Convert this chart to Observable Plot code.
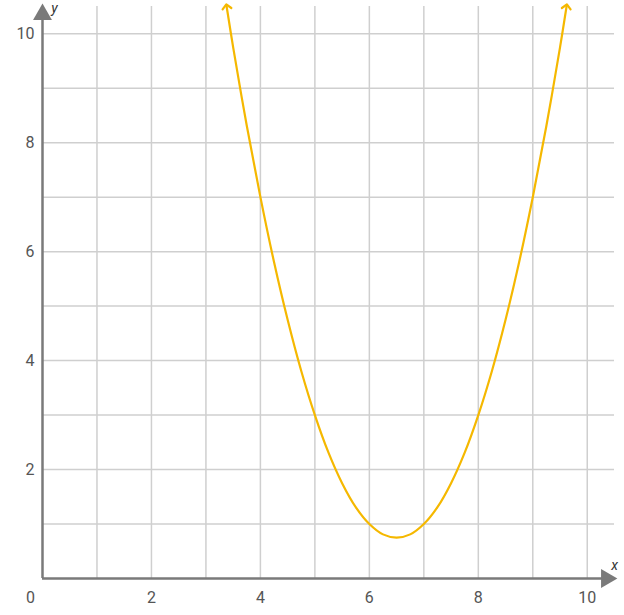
<!DOCTYPE html>
<html>
<head>
<meta charset="utf-8">
<script src="https://cdn.jsdelivr.net/npm/d3@7"></script>
<script src="https://cdn.jsdelivr.net/npm/@observablehq/plot@0.6"></script>
<style>
  html, body { margin: 0; padding: 0; background: #fff; }
  svg { display: block; }
</style>
</head>
<body>
<div id="chart"></div>
<script>
// Points
const curveX = [3.38, 3.5, 3.75, 4, 4.25, 4.5, 4.75, 5, 5.25, 5.5, 5.75, 6, 6.25, 6.5, 6.75, 7, 7.25, 7.5, 7.75, 8, 8.25, 8.5, 8.75, 9, 9.25, 9.5, 9.62];
const curveY = [10.5, 9.75, 8.31, 7, 5.81, 4.75, 3.81, 3, 2.31, 1.75, 1.31, 1, 0.81, 0.75, 0.81, 1, 1.31, 1.75, 2.31, 3, 3.81, 4.75, 5.81, 7, 8.31, 9.75, 10.5];
const gridValues = [1, 2, 3, 4, 5, 6, 7, 8, 9, 10];
const xTickLabels = [2, 4, 6, 8, 10];
const yTickLabels = [2, 4, 6, 8, 10];
const axisMax = 10.5;

const curve = curveX.map((x, i) => ({x, y: curveY[i]}));
const gray = "#7a7a7a";

const chart = Plot.plot({
  width: 624,
  height: 615,
  marginLeft: 42,
  marginRight: 10,
  marginTop: 6,
  marginBottom: 37,
  style: {fontFamily: "Roboto, sans-serif", background: "#fff"},
  x: {domain: [0, axisMax], axis: null},
  y: {domain: [0, axisMax], axis: null},
  marks: [
    Plot.ruleX(gridValues, {stroke: "#cfcfcf", strokeWidth: 1.5}),
    Plot.ruleY(gridValues, {stroke: "#cfcfcf", strokeWidth: 1.5}),
    Plot.ruleX([0], {stroke: gray, strokeWidth: 2.5, y1: 0, y2: axisMax - 0.2}),
    Plot.ruleY([0], {stroke: gray, strokeWidth: 2.5, x1: 0, x2: axisMax - 0.2}),
    Plot.dot([{x: 0, y: axisMax}], {x: "x", y: "y", symbol: "triangle", r: 7, fill: gray, stroke: null, dy: 8}),
    Plot.dot([{x: axisMax, y: 0}], {x: "x", y: "y", symbol: "triangle", r: 7, fill: gray, stroke: null, rotate: 90, dx: -8}),
    Plot.axisX(xTickLabels, {tickSize: 0, tickPadding: 13, fontSize: 16, color: "#555", anchor: "bottom", label: null, tickFormat: "d"}),
    Plot.axisY(yTickLabels, {tickSize: 0, tickPadding: 8, fontSize: 16, color: "#555", anchor: "left", label: null, tickFormat: "d"}),
    Plot.text([0], {x: 0, y: 0, text: d => String(d), dx: -12, dy: 19, fontSize: 16, fill: "#555"}),
    Plot.text(["y"], {x: 0, y: axisMax, text: d => d, dx: 12, dy: 2, fontSize: 14, fontStyle: "italic", fill: "#333"}),
    Plot.text(["x"], {x: axisMax, y: 0, text: d => d, dx: 0, dy: -13, fontSize: 14, fontStyle: "italic", fill: "#333"}),
    Plot.line(curve, {x: "x", y: "y", curve: "catmull-rom", stroke: "#f5b800", strokeWidth: 2.2, markerStart: "arrow-reverse", markerEnd: "arrow"})
  ]
});
document.getElementById("chart").appendChild(chart);
</script>
</body>
</html>
